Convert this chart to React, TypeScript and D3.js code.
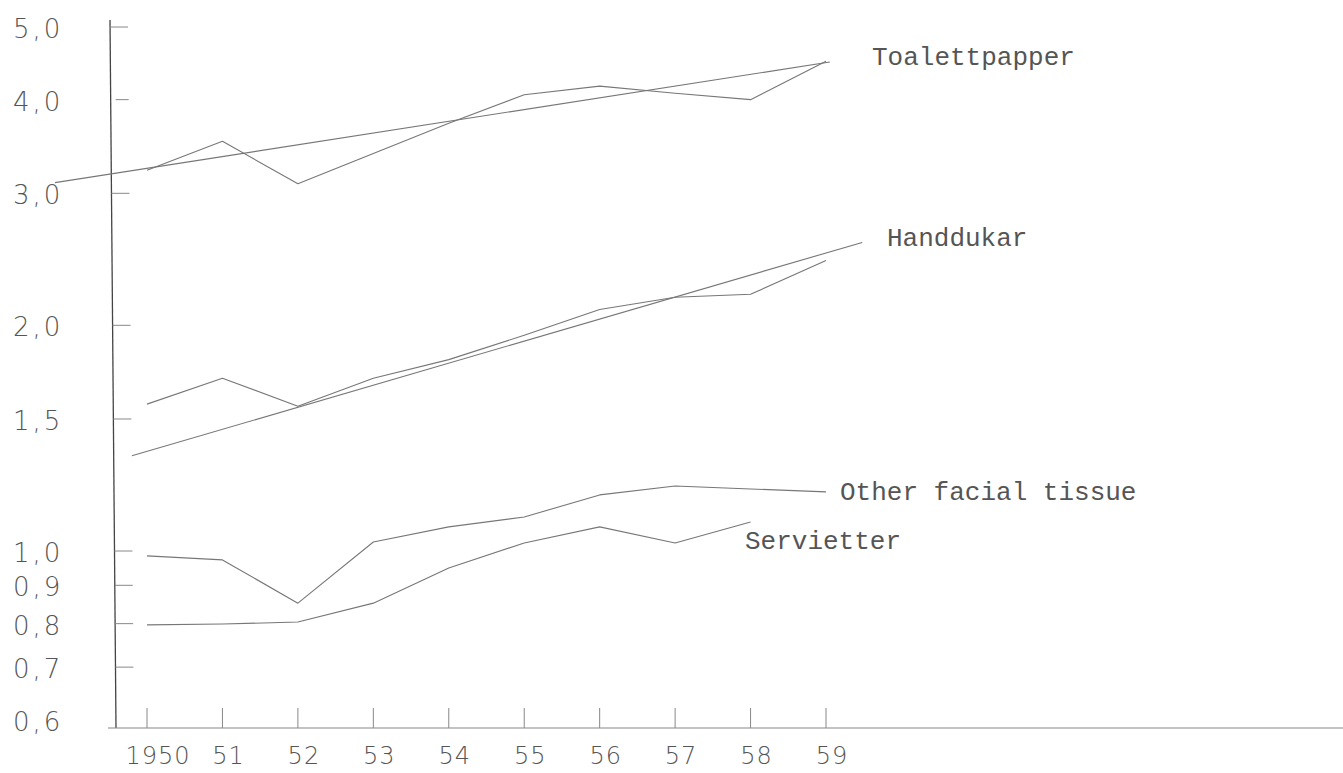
import React from "react";
import * as d3 from "d3";

// ---- data ----
const years = [1950, 1951, 1952, 1953, 1954, 1955, 1956, 1957, 1958, 1959];
const yearLabels = ["1950", "51", "52", "53", "54", "55", "56", "57", "58", "59"];

const toalettpapper = [3.22, 3.52, 3.09, 3.39, 3.72, 4.06, 4.17, 4.08, 4.0, 4.5];
const toalettpapperTrend = [
  { year: 1948.78, value: 3.1 },
  { year: 1959.05, value: 4.49 },
];

const handdukar = [1.57, 1.7, 1.56, 1.7, 1.8, 1.94, 2.1, 2.18, 2.2, 2.44];
const handdukarTrend = [
  { year: 1949.8, value: 1.34 },
  { year: 1959.48, value: 2.58 },
];

const otherFacialTissue = [0.985, 0.973, 0.852, 1.028, 1.077, 1.11, 1.188, 1.221, 1.21, 1.199];
const servietter = [0.797, 0.799, 0.804, 0.852, 0.949, 1.025, 1.077, 1.025, 1.093];

const yTickValues = [5, 4, 3, 2, 1.5, 1, 0.9, 0.8, 0.7, 0.6];
const yTickLabels = ["5,0", "4,0", "3,0", "2,0", "1,5", "1,0", "0,9", "0,8", "0,7", "0,6"];

const seriesNames = ["Toalettpapper", "Handdukar", "Other facial tissue", "Servietter"];

// ---- layout ----
const W = 1343;
const H = 773;
const axisTop = 20;
const axisBottom = 728;
const axisXTop = 110;
const axisXBottom = 116;
const labelPos = [
  { x: 872, y: 58 },
  { x: 887, y: 239 },
  { x: 840, y: 493 },
  { x: 745, y: 542 },
];

const x = d3.scaleLinear().domain([1950, 1959]).range([147, 826]);
const y = d3.scaleLog().domain([1, 5]).range([551, 27]);

const axisXAt = (py: number) =>
  axisXTop + ((axisXBottom - axisXTop) * (py - axisTop)) / (axisBottom - axisTop);

type P = { year: number; value: number };
const line = d3
  .line<P>()
  .x((d) => x(d.year))
  .y((d) => y(d.value));

const toPts = (vals: number[]): P[] => vals.map((v, i) => ({ year: years[i], value: v }));

const lineColor = "#777";
const numFont = "'DejaVu Sans', sans-serif";
const typeFont = "'Liberation Mono', 'Courier New', monospace";

export default function App() {
  const paths = [
    toPts(toalettpapper),
    toalettpapperTrend,
    toPts(handdukar),
    handdukarTrend,
    toPts(otherFacialTissue),
    toPts(servietter),
  ];
  return (
    <svg
      width={W}
      height={H}
      style={{ position: "absolute", left: 0, top: 0, background: "#fff" }}
    >
      <rect x={0} y={0} width={W} height={H} fill="#fff" />
      {/* y axis */}
      <line
        x1={axisXTop}
        y1={axisTop}
        x2={axisXBottom}
        y2={axisBottom}
        stroke="#444"
        strokeWidth={1.3}
      />
      {/* x axis */}
      <line x1={108} y1={axisBottom} x2={W} y2={axisBottom} stroke="#888" strokeWidth={1.1} />

      {/* y ticks */}
      {yTickValues.map((v, i) => {
        const py = y(v);
        const ax = axisXAt(py);
        return (
          <g key={"yt" + i}>
            {v !== 0.6 && (
              <line
                x1={ax + (v === 4 ? 5 : 0)}
                y1={py}
                x2={ax + 18}
                y2={py}
                stroke="#888"
                strokeWidth={1}
              />
            )}
            <text
              x={13}
              y={py + (v === 0.6 ? 5 : 2)}
              dominantBaseline="central"
              fontFamily={numFont}
              fontWeight={200}
              fontSize={26}
              letterSpacing={3}
              fill="#555"
            >
              {yTickLabels[i]}
            </text>
          </g>
        );
      })}

      {/* x ticks */}
      {years.map((yr, i) => (
        <g key={"xt" + yr}>
          <line
            x1={x(yr)}
            y1={axisBottom}
            x2={x(yr)}
            y2={axisBottom - 20}
            stroke="#888"
            strokeWidth={1}
          />
          <text
            x={x(yr) + (i === 0 ? 11 : 6)}
            y={756}
            textAnchor="middle"
            dominantBaseline="central"
            fontFamily={numFont}
            fontWeight={200}
            fontSize={24}
            letterSpacing={1}
            fill="#555"
          >
            {yearLabels[i]}
          </text>
        </g>
      ))}

      {/* series */}
      {paths.map((p, i) => (
        <path
          key={"s" + i}
          d={line(p) || ""}
          fill="none"
          stroke={lineColor}
          strokeWidth={1.1}
          strokeLinejoin="round"
        />
      ))}

      {/* labels */}
      {seriesNames.map((n, i) => (
        <text
          key={"l" + i}
          x={labelPos[i].x}
          y={labelPos[i].y}
          dominantBaseline="central"
          fontFamily={typeFont}
          fontSize={26}
          fill="#555"
        >
          {n}
        </text>
      ))}
    </svg>
  );
}
